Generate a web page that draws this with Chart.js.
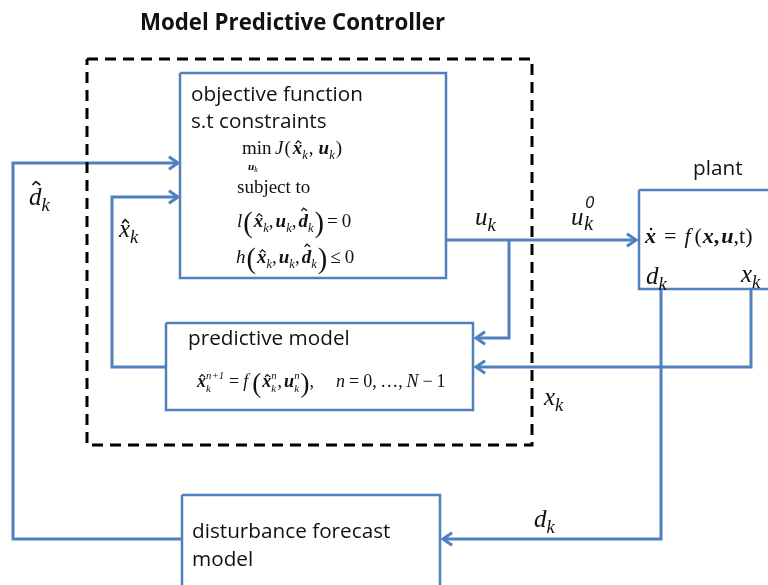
<!DOCTYPE html>
<html><head><meta charset="utf-8">
<script src="https://cdn.jsdelivr.net/npm/chart.js@4.4.1/dist/chart.umd.min.js"></script>
<style>html,body{margin:0;padding:0;background:#fff}#wrap{width:768px;height:585px;position:relative}</style>
</head><body><div id="wrap"><canvas id="c" width="768" height="585"></canvas></div>
<script>
// ---- diagram data (diagram coordinate space 0..768 x 0..585) ----
const boxObjective   = [[180,73],[446,73],[446,278],[180,278],[180,73]];
const boxPredictive  = [[166,323],[473,323],[473,410],[166,410],[166,323]];
const boxDisturbance = [[182,495],[440,495],[440,592],[182,592],[182,495]];
const boxPlant       = [[639,190],[775,190],[775,289],[639,289],[639,190]];
const boxController  = [[87,59],[532,59],[532,445],[87,445],[87,59]];

const pathDHat   = [[182,539],[13,539],[13,163],[178,163]];
const pathXHat   = [[166,367],[112,367],[112,197],[178,197]];
const pathU      = [[446,240],[636,240]];
const pathUBranch= [[509,240],[509,338],[476,338]];
const pathX      = [[751,289],[751,367],[476,367]];
const pathD      = [[661,289],[661,539],[443,539]];

const titleText = 'Model Predictive Controller';
const sansTexts = ['objective function','s.t constraints','predictive model','disturbance forecast','model','plant'];

const BLUE = '#4f81bd';

function pts(a){return a.map(([x,y])=>({x,y}));}
function lineDs(a, color, w, dash){
  return {data:pts(a), showLine:true, borderColor:color, borderWidth:w, pointRadius:0,
    fill:false, tension:0, borderDash:dash||[], borderJoinStyle:'miter', borderCapStyle:'butt'};
}
function arrowHead(path){
  const [x1,y1]=path[path.length-2], [x2,y2]=path[path.length-1];
  const ang=Math.atan2(y2-y1,x2-x1), L=11, s=0.6;
  const a=[x2-L*Math.cos(ang-s), y2-L*Math.sin(ang-s)];
  const b=[x2-L*Math.cos(ang+s), y2-L*Math.sin(ang+s)];
  return [a,[x2,y2],b];
}

const datasets = [
  lineDs(boxController,'#000',3,[11,7]),
  lineDs(boxObjective,BLUE,2.5),
  lineDs(boxPredictive,BLUE,2.5),
  lineDs(boxDisturbance,BLUE,2.5),
  lineDs(boxPlant,BLUE,2.5),
];
[pathDHat,pathXHat,pathU,pathUBranch,pathX,pathD].forEach(p=>{
  datasets.push(lineDs(p,BLUE,3));
  datasets.push(lineDs(arrowHead(p),BLUE,3));
});

// ---- rich math text helper ----
const SERIF='"Liberation Serif", "Times New Roman", serif';
const SANS='"Open Sans", "Lato", sans-serif';
function fontOf(st,sz){
  const m={i:'italic ',r:'',bi:'italic bold ',b:'bold '}[st]||'';
  return m+sz+'px '+SERIF;
}
function math(ctx,x,y,items,size){
  let cx=x;
  for(const it of items){
    if(it.gap){cx+=it.gap;continue;}
    if(it.sup!==undefined||it.sub!==undefined){
      const s=size*0.6;
      ctx.font=fontOf('i',s);
      let w=0;
      if(it.sup){ctx.fillText(it.sup,cx,y-size*0.42); w=Math.max(w,ctx.measureText(it.sup).width);}
      if(it.sub){ctx.fillText(it.sub,cx,y+size*0.25); w=Math.max(w,ctx.measureText(it.sub).width);}
      cx+=w+1; continue;
    }
    const sz=size*(it.sc||1);
    ctx.font=fontOf(it.st||'i',sz);
    const dy=it.dy||0;
    ctx.fillText(it.t,cx,y+dy);
    const w=ctx.measureText(it.t).width;
    if(it.hat){
      const top=y+dy-sz*(it.hatH||0.55);
      ctx.save();ctx.lineWidth=Math.max(1,sz*0.065);ctx.strokeStyle=ctx.fillStyle;
      ctx.beginPath();ctx.moveTo(cx+w*0.2+1,top);ctx.lineTo(cx+w*0.55,top-sz*0.14);ctx.lineTo(cx+w*0.9,top);ctx.stroke();ctx.restore();
    }
    if(it.dot){
      const top=y+dy-sz*0.64;
      ctx.beginPath();ctx.arc(cx+w*0.55,top,sz*0.055,0,Math.PI*2);ctx.fill();
    }
    cx+=w;
  }
  return cx;
}
const sub=(t,d)=>({t,st:'i',sc:0.66,dy:d||5});
const P=(t)=>({t,st:'r',sc:1.5,dy:5});

const textPlugin={
  id:'diagramText',
  afterDatasetsDraw(chart){
    const c=chart.ctx, X=v=>chart.scales.x.getPixelForValue(v), Y=v=>chart.scales.y.getPixelForValue(v);
    c.save();
    c.fillStyle='#111';
    c.textBaseline='alphabetic';c.textAlign='left';
    c.font='bold 20px '+SANS;
    let tw=c.measureText(titleText).width;
    c.font='bold '+(20*305/tw).toFixed(2)+'px '+SANS;
    c.fillText(titleText,X(140),Y(30));
    c.font='18px '+SANS;
    const fs=18*172/c.measureText(sansTexts[0]).width;
    c.font=fs.toFixed(2)+'px '+SANS;
    c.fillText(sansTexts[0],X(191),Y(101));
    c.fillText(sansTexts[1],X(191),Y(128));
    c.fillText(sansTexts[2],X(188),Y(345));
    c.fillText(sansTexts[3],X(192),Y(538));
    c.fillText(sansTexts[4],X(192),Y(566));
    c.fillText(sansTexts[5],X(693),Y(175));

    // objective formulas
    const s1=19;
    c.font=fontOf('r',s1);c.fillText('min',X(242),Y(154));
    math(c,X(248),Y(170),[{t:'u',st:'bi',sc:0.6},{t:'k',st:'i',sc:0.42,dy:2}],s1);
    math(c,X(275),Y(154),[{t:'J',st:'i'},{gap:1},{t:'(',st:'r'},{gap:2},{t:'x',st:'bi',hat:1},sub('k',5),{gap:1},{t:',',st:'r'},{gap:5},{t:'u',st:'bi'},sub('k',5),{gap:1},{t:')',st:'r'}],s1);
    c.font=fontOf('r',s1);c.fillText('subject to',X(237),Y(193));
    const rowL=(ch,rel)=>[{t:ch,st:'i'},{gap:1},P('('),{gap:1},{t:'x',st:'bi',hat:1},sub('k',5),{t:',',st:'r'},{gap:2},{t:'u',st:'bi'},sub('k',5),{t:',',st:'r'},{gap:2},{t:'d',st:'bi',hat:1,hatH:0.85},sub('k',5),{gap:1},P(')'),{gap:3},{t:rel,st:'r'},{gap:4},{t:'0',st:'r'}];
    math(c,X(237),Y(227),rowL('l','='),s1);
    math(c,X(236),Y(263),rowL('h','\u2264'),s1);

    // predictive model formula
    const s2=18;
    math(c,X(197),Y(387),[{t:'x',st:'bi',hat:1},{sup:'n+1',sub:'k'},{gap:4},{t:'=',st:'r'},{gap:4},{t:'f',st:'i'},{gap:4},P('('),{gap:1},{t:'x',st:'bi',hat:1},{sup:'n',sub:'k'},{t:',',st:'r'},{gap:2},{t:'u',st:'bi'},{sup:'n',sub:'k'},P(')'),{t:',',st:'r'},{gap:22},{t:'n',st:'i'},{gap:4},{t:'=',st:'r'},{gap:4},{t:'0,\u2009\u2026,\u2009',st:'r'},{t:'N',st:'i'},{gap:4},{t:'\u2212',st:'r'},{gap:4},{t:'1',st:'r'}],s2);

    // plant formula
    math(c,X(645),Y(243),[{t:'x',st:'bi',dot:1},{gap:8},{t:'=',st:'r'},{gap:8},{t:'f',st:'i'},{gap:4},{t:'(',st:'r'},{gap:1},{t:'x',st:'bi'},{t:',',st:'b'},{gap:2},{t:'u',st:'bi'},{t:',t)',st:'r'}],22);

    // signal labels (italic)
    const s3=25;
    const kk={t:'k',st:'i',sc:0.74,dy:6};
    math(c,X(29),Y(205),[{t:'d',st:'i',hat:1,hatH:0.8},kk],s3);
    math(c,X(119),Y(237),[{t:'x',st:'i',hat:1},kk],s3);
    math(c,X(475),Y(225),[{t:'u',st:'i'},kk],s3);
    math(c,X(571),Y(225),[{t:'u',st:'i'}],s3);
    c.font='italic 17px '+SANS;c.fillText('0',X(585),Y(208));
    math(c,X(584),Y(230),[{t:'k',st:'i',sc:0.82}],s3);
    math(c,X(646),Y(284),[{t:'d',st:'i'},kk],s3);
    math(c,X(741),Y(282),[{t:'x',st:'i'},kk],s3);
    math(c,X(544),Y(405),[{t:'x',st:'i'},kk],s3);
    math(c,X(534),Y(527),[{t:'d',st:'i'},kk],s3);
    c.restore();
  }
};

new Chart(document.getElementById('c').getContext('2d'),{
  type:'scatter',
  data:{datasets},
  options:{
    responsive:false, animation:false, events:[],
    layout:{padding:0},
    plugins:{legend:{display:false},tooltip:{enabled:false}},
    scales:{
      x:{type:'linear',min:0,max:768,display:false},
      y:{type:'linear',min:0,max:585,reverse:true,display:false}
    }
  },
  plugins:[textPlugin]
});
</script>
</body></html>
